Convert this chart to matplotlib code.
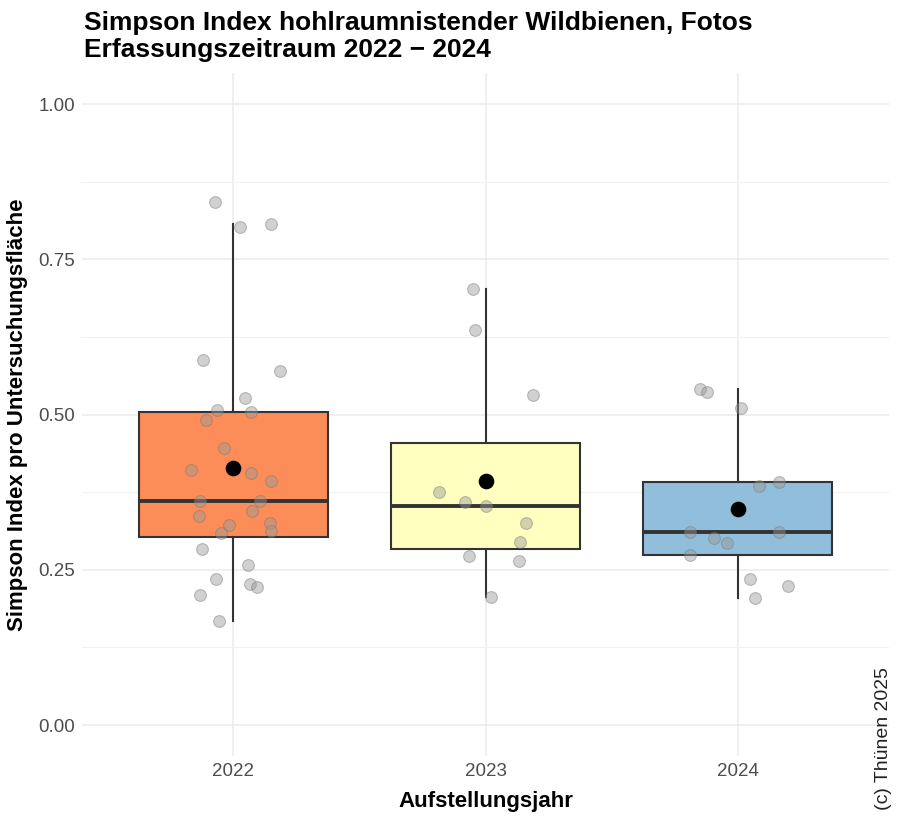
import matplotlib.pyplot as plt
import numpy as np

plt.rcParams['font.family'] = ['Liberation Sans', 'DejaVu Sans']

years = ['2022', '2023', '2024']

# Simpson index per site
simpson_2022 = [0.843, 0.802, 0.807, 0.588, 0.570, 0.526, 0.508, 0.504, 0.492, 0.447,
                0.411, 0.406, 0.393, 0.361, 0.361, 0.345, 0.336, 0.326, 0.322, 0.312,
                0.309, 0.284, 0.258, 0.235, 0.228, 0.222, 0.210, 0.168]
simpson_2023 = [0.702, 0.637, 0.531, 0.376, 0.359, 0.353, 0.325, 0.295, 0.273, 0.265, 0.206]
simpson_2024 = [0.541, 0.537, 0.510, 0.392, 0.385, 0.311, 0.311, 0.301, 0.293, 0.274,
                0.235, 0.224, 0.204]

# horizontal jitter of each point (category units)
jitter_2022 = [-0.071, 0.025, 0.150, -0.118, 0.185, 0.048, -0.065, 0.070, -0.110, -0.038,
               -0.168, 0.070, 0.150, -0.133, 0.104, 0.076, -0.136, 0.145, -0.015, 0.148,
               -0.050, -0.122, 0.058, -0.067, 0.066, 0.094, -0.130, -0.055]
jitter_2023 = [-0.050, -0.042, 0.189, -0.183, -0.083, 0.003, 0.160, 0.136, -0.064, 0.133, 0.021]
jitter_2024 = [-0.150, -0.122, 0.012, 0.162, 0.084, -0.190, 0.162, -0.096, -0.041, -0.189,
               0.048, 0.197, 0.070]

data = [simpson_2022, simpson_2023, simpson_2024]
jitter = [jitter_2022, jitter_2023, jitter_2024]
colors = ['#FC8D59', '#FFFFBF', '#91BFDB']

fig = plt.figure(figsize=(9, 8.21), dpi=100)
ax = fig.add_axes([0.091, 0.079, 0.897, 0.832])

pos = np.arange(1, 4)
bp = ax.boxplot(data, positions=pos, widths=0.75, patch_artist=True, showfliers=False,
                showcaps=False, zorder=2,
                medianprops=dict(color='#333333', linewidth=2.8),
                whiskerprops=dict(color='#333333', linewidth=1.5),
                boxprops=dict(edgecolor='#333333', linewidth=1.5))
for patch, c in zip(bp['boxes'], colors):
    patch.set_facecolor(c)

for i, (vals, jit) in enumerate(zip(data, jitter)):
    ax.scatter(pos[i] + np.array(jit), vals, s=72, color='#999999', alpha=0.45,
               edgecolor='#777777', linewidth=0.8, zorder=3)
    ax.scatter(pos[i], np.mean(vals), s=105, color='black', zorder=4)

ax.set_xlim(0.4, 3.6)
ax.set_ylim(-0.05, 1.05)
ax.set_yticks([0, 0.25, 0.5, 0.75, 1.0])
ax.set_yticklabels(['0.00', '0.25', '0.50', '0.75', '1.00'])
ax.set_yticks([0.125, 0.375, 0.625, 0.875], minor=True)
ax.set_xticks(pos)
ax.set_xticklabels(years)
ax.tick_params(axis='both', which='both', length=0, labelsize=13.5, colors='#4D4D4D', pad=5)
ax.grid(True, which='major', color='#EBEBEB', linewidth=1.1, zorder=0)
ax.grid(True, which='minor', axis='y', color='#F2F2F2', linewidth=0.8, zorder=0)
ax.set_axisbelow(True)
for s in ax.spines.values():
    s.set_visible(False)

ax.set_xlabel('Aufstellungsjahr', fontsize=16, fontweight='bold', labelpad=8)
ax.set_ylabel('Simpson Index pro Untersuchungsfläche', fontsize=16, fontweight='bold', labelpad=7)
fig.text(0.093, 0.987, 'Simpson Index hohlraumnistender Wildbienen, Fotos\nErfassungszeitraum 2022 − 2024',
         fontsize=19, fontweight='bold', ha='left', va='top', linespacing=1.15)
fig.text(0.982, 0.013, '(c) Thünen 2025', rotation=90, fontsize=14, ha='center', va='bottom',
         color='#222222')

fig.savefig('out.png', dpi=100)
